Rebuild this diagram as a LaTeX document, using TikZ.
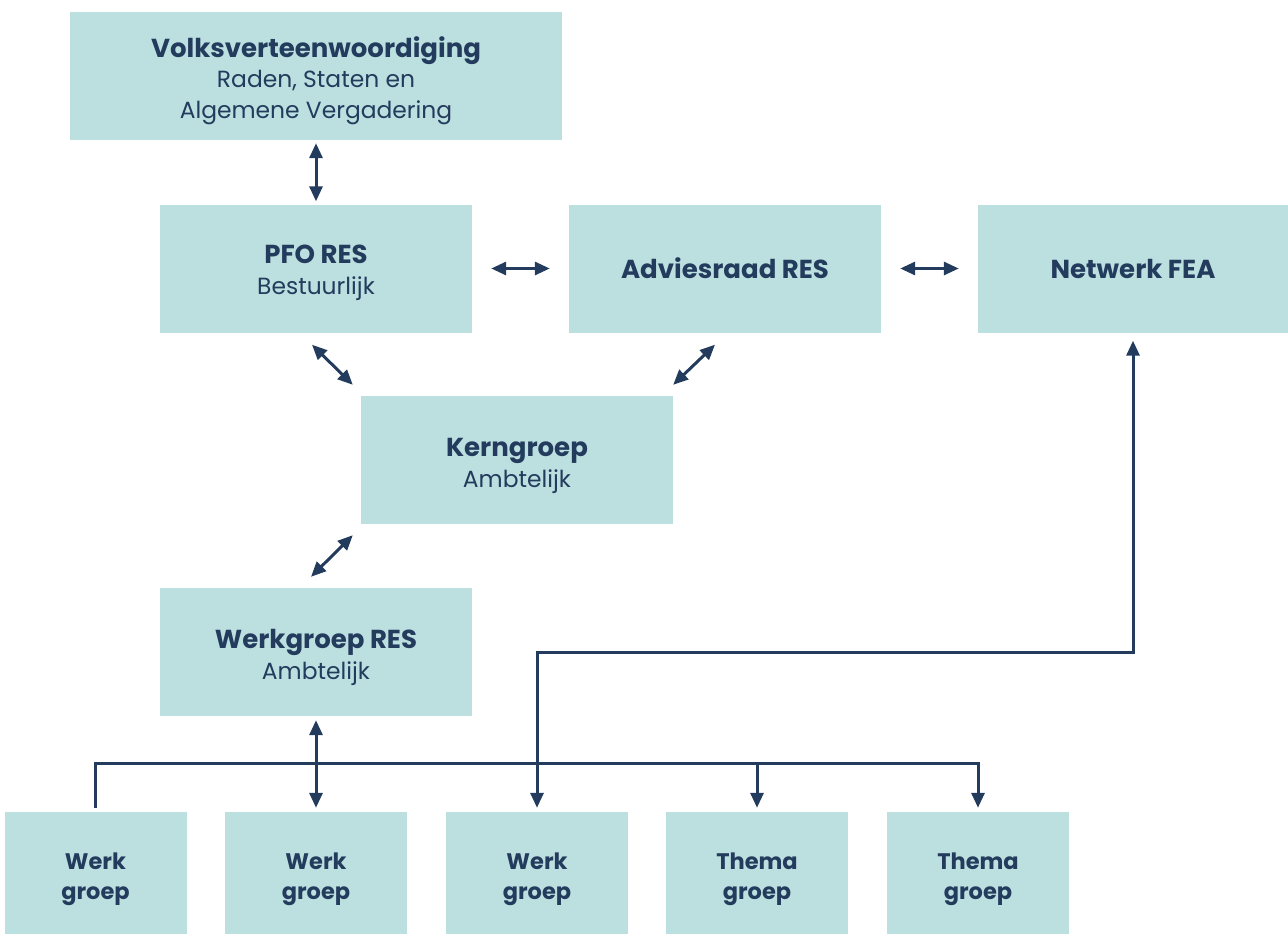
\documentclass[tikz,border=0pt]{standalone}
\usepackage{fontspec}
\setmainfont{Poppins}
\usetikzlibrary{arrows.meta,calc}
\definecolor{boxfill}{HTML}{BCE0E0}
\definecolor{navy}{HTML}{233B5C}
\newcommand\hd[1]{{\fontsize{26}{30}\selectfont\bfseries #1}}
\newcommand\strt{\rule{0pt}{30pt}}
\begin{document}
\begin{tikzpicture}[x=1pt,y=-1pt,
  box/.style={fill=boxfill,draw=none,text=navy,align=center,inner sep=0pt,
    minimum width=312pt,minimum height=128pt,font=\fontsize{23.4}{30.5}\selectfont},
  small/.style={box,minimum width=182pt,minimum height=122pt,font=\fontsize{22.5}{30}\selectfont\bfseries},
  conn/.style={draw=navy,line width=3pt},
  tip/.style={conn,arrows={-Triangle[length=15pt,width=13pt]}},
  tips/.style={conn,arrows={Triangle[length=15pt,width=13pt]-Triangle[length=15pt,width=13pt]}}
]
\path[use as bounding box] (0,0) rectangle (1288,934);
\node[box,minimum width=492pt] (volk) at (316,76) {\strt\hd{Volksverteenwoordiging}\\Raden, Staten en\\Algemene Vergadering};
\node[box] (pfo) at (316,268.5) {\rule{0pt}{27pt}\hd{PFO RES}\\Bestuurlijk};
\node[box] (adv) at (725,268.5) {\hd{Adviesraad RES}};
\node[box,minimum width=310pt] (fea) at (1133,268.5) {\hd{Netwerk FEA}};
\node[box] (kern) at (517,460) {\strt\hd{Kerngroep}\\Ambtelijk};
\node[box] (wg) at (316,652) {\strt\hd{Werkgroep RES}\\Ambtelijk};
\node[small] (b1) at (95.5,873) {\strt Werk\\groep};
\node[small] (b2) at (316,873) {\strt Werk\\groep};
\node[small] (b3) at (537,873) {\strt Werk\\groep};
\node[small] (b4) at (757,873) {\strt Thema\\groep};
\node[small] (b5) at (978,873) {\strt Thema\\groep};
% arrows
\draw[tips] ([yshift=-3pt]volk.south) -- ([yshift=3pt]pfo.north);
\draw[tips] ([xshift=19pt]pfo.east) -- ([xshift=-19pt]adv.west);
\draw[tips] ([xshift=19pt]adv.east) -- ([xshift=-19pt]fea.west);
\draw[tips] ([xshift=-4pt,yshift=-12pt]pfo.south) -- ([xshift=-8pt,yshift=11pt]kern.north west);
\draw[tips] ([xshift=-10pt,yshift=-12pt]adv.south) -- ([yshift=11pt]kern.north east);
\draw[tips] ([xshift=-8pt,yshift=-11pt]kern.south west) -- ([xshift=-5pt,yshift=11pt]wg.north);
\draw[tips] ([yshift=-4pt]wg.south) -- ([yshift=4pt]b2.north);
% bus
\coordinate (bus) at ([yshift=48pt]b5.north);
\draw[tip] ([yshift=4pt]b1.north) |- (bus) -- ([yshift=4pt]b5.north);
\draw[tip] (b4.north |- bus) -- ([yshift=4pt]b4.north);
% FEA link
\draw[tips] ([yshift=4pt]b3.north) -- (b3.north |- wg.center) -| ([yshift=-8pt]fea.south);
\end{tikzpicture}
\end{document}
